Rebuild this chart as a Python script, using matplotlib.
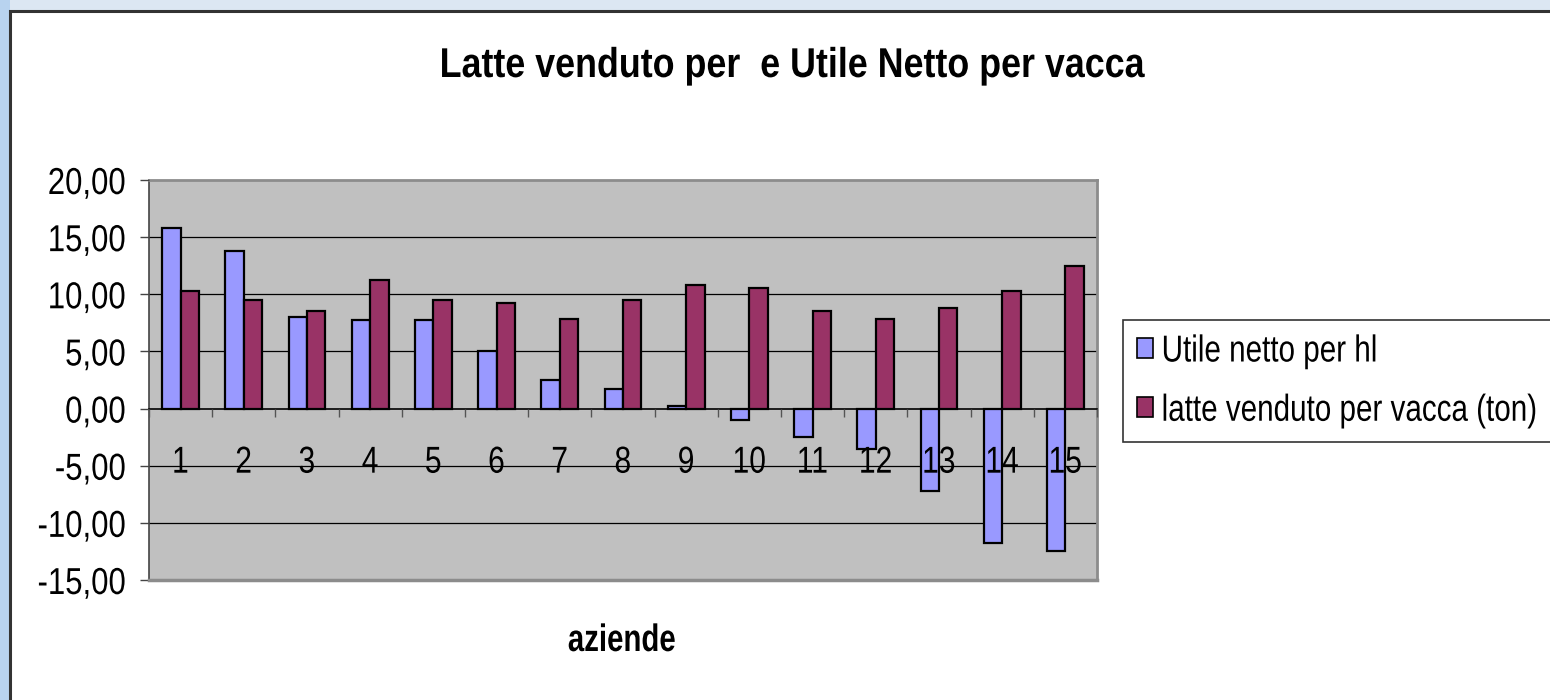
import matplotlib
matplotlib.use("Agg")
import matplotlib.pyplot as plt
from matplotlib.patches import Rectangle
from matplotlib.ticker import FuncFormatter, FixedLocator
from matplotlib.patheffects import AbstractPathEffect
from matplotlib.transforms import Affine2D
import numpy as np

plt.rcParams['font.family'] = ['Liberation Sans', 'DejaVu Sans']

aziende = ["1", "2", "3", "4", "5", "6", "7", "8", "9", "10", "11", "12", "13", "14", "15"]
utile_netto_hl = [15.8, 13.8, 8.0, 7.75, 7.75, 5.0, 2.5, 1.75, 0.25, -1.0, -2.5, -3.5, -7.25, -11.75, -12.5]
latte_venduto = [10.25, 9.5, 8.5, 11.25, 9.5, 9.25, 7.8, 9.5, 10.8, 10.55, 8.5, 7.8, 8.8, 10.25, 12.5]
series_labels = ["Utile netto per hl", "latte venduto per vacca (ton)"]
title = "Latte venduto per  e Utile Netto per vacca"
xlabel = "aziende"
yticks = [-15, -10, -5, 0, 5, 10, 15, 20]


class Condense(AbstractPathEffect):
    """Draw text horizontally condensed (narrow font look)."""
    def __init__(self, sx=0.83, anchor='center'):
        super().__init__()
        self.sx = sx
        self.anchor = anchor

    def draw_path(self, renderer, gc, tpath, affine, rgbFace=None):
        v = tpath.vertices
        if len(v):
            xmin, xmax = v[:, 0].min(), v[:, 0].max()
        else:
            xmin = xmax = 0.0
        cx = {'left': xmin, 'center': 0.5 * (xmin + xmax), 'right': xmax}[self.anchor]
        t = Affine2D().translate(-cx, 0).scale(self.sx, 1).translate(cx, 0) + affine
        renderer.draw_path(gc, tpath, t, rgbFace)


W, H = 1550, 700
fig = plt.figure(figsize=(15.5, 7), dpi=100, facecolor='#dce7f3')

# left blue strip and white chart frame
fig.add_artist(Rectangle((0, 0), 10 / W, 1, transform=fig.transFigure,
                         facecolor='#b8d3ef', edgecolor='none', zorder=0))
fig.add_artist(Rectangle((10 / W, -0.02), 1.0, 1 - 11 / H + 0.02, transform=fig.transFigure,
                         facecolor='white', edgecolor='#333333', linewidth=2.2, zorder=0.1))

ax = fig.add_axes([149 / W, 1 - 580 / H, (1097 - 149) / W, 400 / H])
ax.set_facecolor('#c0c0c0')
ax.set_zorder(1)
ax.set_axisbelow(False)

x = np.arange(1, len(aziende) + 1)
bw = 0.29
ax.bar(x - bw / 2, utile_netto_hl, bw, color='#9999ff', edgecolor='black', linewidth=1.6,
       label=series_labels[0], zorder=2)
ax.bar(x + bw / 2, latte_venduto, bw, color='#993366', edgecolor='black', linewidth=1.6,
       label=series_labels[1], zorder=2)

ax.set_xlim(0.5, len(aziende) + 0.5)
ax.set_ylim(yticks[0], yticks[-1])

# gridlines behind bars
for yv in yticks[1:-1]:
    if yv != 0:
        ax.axhline(yv, color='black', linewidth=0.9, zorder=0.5)

# spines
for s in ['top', 'right']:
    ax.spines[s].set_color('#8c8c8c')
    ax.spines[s].set_linewidth(2)
ax.spines['left'].set_color('#444444')
ax.spines['left'].set_linewidth(1.2)
ax.spines['bottom'].set_position(('data', 0))
ax.spines['bottom'].set_color('black')
ax.spines['bottom'].set_linewidth(1.2)
ax.axhline(yticks[0], color='#8c8c8c', linewidth=2.5, clip_on=False, zorder=3)

ax.set_yticks(yticks)
ax.yaxis.set_major_formatter(FuncFormatter(lambda v, p: f"{v:.2f}".replace('.', ',')))
ax.tick_params(axis='y', direction='out', length=6.5, width=1, color='#444444',
               labelsize=27, pad=10)

ax.set_xticks(x)
ax.set_xticklabels(aziende)
ax.xaxis.set_minor_locator(FixedLocator(np.arange(0.5, len(aziende) + 1, 1.0)))
ax.tick_params(axis='x', which='major', length=0, labelsize=27, pad=26)
ax.tick_params(axis='x', which='minor', direction='out', length=6, width=1, color='#555555')

for lbl in ax.get_yticklabels():
    lbl.set_path_effects([Condense(0.83, 'right')])
for lbl in ax.get_xticklabels():
    lbl.set_path_effects([Condense(0.8, 'center')])

fig.text(792 / W, 1 - 66 / H, title, ha='center', va='center', fontsize=30,
         fontweight='bold', path_effects=[Condense(0.86, 'center')])
fig.text(622 / W, 1 - 641 / H, xlabel, ha='center', va='center', fontsize=27.5,
         fontweight='bold', path_effects=[Condense(0.77, 'center')])

leg = fig.legend(loc='upper left', bbox_to_anchor=(1123 / W, 1 - 320 / H),
                 bbox_transform=fig.transFigure, fontsize=27, frameon=True,
                 fancybox=False, shadow=False, handlelength=0.45, handleheight=0.45,
                 handletextpad=0.22, labelspacing=0.62, borderpad=0.36, borderaxespad=0)
leg.get_frame().set_edgecolor('black')
leg.get_frame().set_linewidth(1.2)
for h in leg.legend_handles:
    h.set_linewidth(1.2)
for t in leg.get_texts():
    t.set_path_effects([Condense(0.79, 'left')])

fig.savefig('out.png', dpi=100, facecolor=fig.get_facecolor())
